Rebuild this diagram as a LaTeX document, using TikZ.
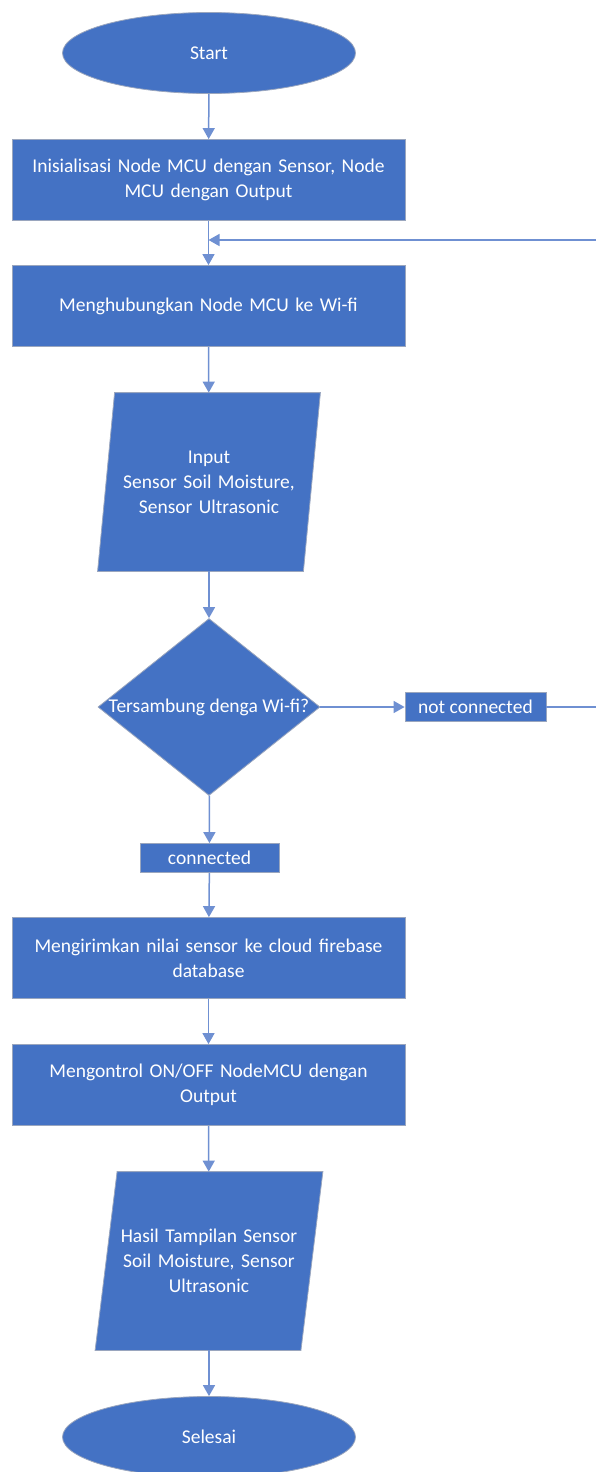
\documentclass[tikz,border=0pt]{standalone}
\usepackage{fontspec}
\setmainfont{Carlito}
\usetikzlibrary{shapes.geometric,arrows.meta,backgrounds}
\definecolor{flowblue}{HTML}{4472C4}
\definecolor{flowline}{HTML}{6F90D2}
\definecolor{flowedge}{HTML}{9AA6BE}
\tikzset{
  base/.style={fill=flowblue,draw=flowedge,line width=0.8pt,text=white,
    font=\fontsize{19.5}{25}\selectfont,align=center,inner sep=0pt},
  terminal/.style={base,ellipse,minimum width=293,minimum height=81},
  process/.style={base,rectangle,minimum width=393,minimum height=81,text width=380},
  io/.style={base,fill=none,draw=none,rectangle,minimum width=205,minimum height=178,text width=200},
  iofill/.style={fill=flowblue,draw=flowedge,line width=0.8pt},
  decision/.style={base,diamond,minimum width=222,minimum height=177},
  tag/.style={base,rectangle,minimum height=29},
  flow/.style={draw=flowline,line width=1.5pt,-{Triangle[width=12pt,length=11pt]}}
}
\begin{document}
\begin{tikzpicture}[x=1pt,y=-1pt]
  \useasboundingbox (0,0) rectangle (595,1472);
  \coordinate (back) at (598,240);
  \node[terminal] (start) at (209,53) {Start};
  \node[process] (init) at (208.5,180) {Inisialisasi Node MCU dengan Sensor, Node\\MCU dengan Output};
  \node[process] (wifi) at (208.5,306) {Menghubungkan Node MCU ke Wi-fi};
  \node[io] (input) at (209,482) {Input\\Sensor Soil Moisture,\\Sensor Ultrasonic};
  \node[decision] (cek) at (209,707) {};
  \node[base,fill=none,draw=none] (cektext) at (cek) {Tersambung denga Wi-fi?};
  \node[tag,minimum width=141] (nc) at (475.5,707) {not connected};
  \node[tag,minimum width=139] (ok) at (209.5,858) {connected};
  \node[process] (kirim) at (208.5,958) {Mengirimkan nilai sensor ke cloud firebase\\database};
  \node[process] (kontrol) at (208.5,1085) {Mengontrol ON/OFF NodeMCU dengan\\Output};
  \node[io] (hasil) at (209,1261) {Hasil Tampilan Sensor\\Soil Moisture, Sensor\\Ultrasonic};
  \node[terminal] (selesai) at (209,1437) {Selesai};

  % slanted input/output boxes behind their text
  \begin{scope}[on background layer]
    \foreach \io/\s in {input/8.5,hasil/11}
      \filldraw[iofill] ([xshift=\s]\io.north west) -- ([xshift=\s]\io.north east)
        -- ([xshift=-\s]\io.south east) -- ([xshift=-\s]\io.south west) -- cycle;
  \end{scope}

  \draw[flow] (start) -- (init);
  \draw[flow] (init) -- (wifi);
  \draw[flow] (wifi) -- (input);
  \draw[flow] (input) -- (cek);
  \draw[flow] (cek) -- (nc);
  \draw[flow] (cek) -- (ok);
  \draw[flow] (ok) -- (kirim);
  \draw[flow] (kirim) -- (kontrol);
  \draw[flow] (kontrol) -- (hasil);
  \draw[flow] (hasil) -- (selesai);
  \draw[flow] (nc.east) -- (back |- nc.east) -- (back) -- (init.south |- back);
\end{tikzpicture}
\end{document}
